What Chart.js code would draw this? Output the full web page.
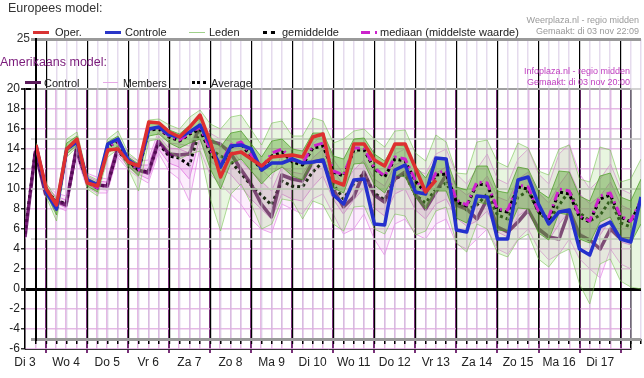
<!DOCTYPE html>
<html><head><meta charset="utf-8">
<script src="https://cdn.jsdelivr.net/npm/chart.js@4.4.1/dist/chart.umd.min.js"></script>
<style>
html,body{margin:0;padding:0;background:#fff;}
#wrap{position:relative;width:644px;height:378px;overflow:hidden;font-family:"Liberation Sans",Arial,sans-serif;}
canvas{position:absolute;left:0;top:0;}
.t{position:absolute;white-space:nowrap;line-height:normal;}
.sw{position:absolute;}
</style></head>
<body>
<div id="wrap">
<canvas id="us" width="644" height="378"></canvas>
<canvas id="eu" width="644" height="378"></canvas>

<div class="t" style="left:8px;top:1px;font-size:12.5px;color:#333;">Europees model:</div>
<div class="sw" style="left:33px;top:31px;width:16px;height:3px;background:#d83232;"></div>
<div class="t" style="left:55px;top:26px;font-size:11px;color:#222;">Oper.</div>
<div class="sw" style="left:105px;top:31px;width:16px;height:3px;background:#2a36c8;"></div>
<div class="t" style="left:125px;top:26px;font-size:11px;color:#222;">Controle</div>
<div class="sw" style="left:189px;top:32px;width:16px;height:1px;background:#9fd08a;"></div>
<div class="t" style="left:209px;top:26px;font-size:11px;color:#222;">Leden</div>
<div class="sw" style="left:263px;top:31px;width:12px;height:0;border-top:3px dotted #000;"></div>
<div class="t" style="left:282px;top:26px;font-size:11px;color:#222;">gemiddelde</div>
<div class="sw" style="left:361px;top:31px;width:9px;height:3px;background:#cc22cc;"></div>
<div class="sw" style="left:375px;top:31px;width:2px;height:3px;background:#cc22cc;"></div>
<div class="t" style="left:380px;top:26px;font-size:11px;color:#222;">mediaan (middelste waarde)</div>
<div class="t" style="right:5px;top:15px;font-size:9px;color:#9a9a9a;">Weerplaza.nl - regio midden</div>
<div class="t" style="right:5px;top:26px;font-size:9px;color:#9a9a9a;">Gemaakt: di 03 nov 22:09</div>

<div class="t" style="left:0px;top:55px;font-size:12.5px;color:#7a1a7a;">Amerikaans model:</div>
<div class="sw" style="left:25px;top:81px;width:16px;height:3px;background:#5a1a5a;"></div>
<div class="t" style="left:44px;top:77px;font-size:11px;color:#222;">Control</div>
<div class="sw" style="left:103px;top:82px;width:15px;height:1px;background:#e6a8e6;"></div>
<div class="t" style="left:123px;top:77px;font-size:10.5px;color:#222;">Members</div>
<div class="sw" style="left:192px;top:81px;width:14px;height:0;border-top:3px dotted #000;"></div>
<div class="t" style="left:211px;top:77px;font-size:11px;color:#222;">Average</div>
<div class="t" style="right:14px;top:66px;font-size:9px;color:#c040c0;">Infoplaza.nl - regio midden</div>
<div class="t" style="right:14px;top:77px;font-size:9px;color:#c040c0;">Gemaakt: di 03 nov 20:00</div>
</div>

<script>
// ---------- DATA ----------
const dayNames = ['Di 3','Wo 4','Do 5','Vr 6','Za 7','Zo 8','Ma 9','Di 10','Wo 11','Do 12','Vr 13','Za 14','Zo 15','Ma 16','Di 17'];

// European model (hours after Di 3 00:00)
const euHours = [18,24,30,36,42,48,54,60,66,72,78,84,90,96,102,108,114,120,126,132,138,144,150,156,162,168,174,180,186,192,198,204,210,216,222,228,234,240,246,252,258,264,270,276,282,288,294,300,306,312,318,324,330,336,342,348,354,360,366,372];
const euOper = [14.4,10.0,8.4,14.0,15.0,10.6,10.3,13.9,14.0,12.7, 12.3,16.7,16.6,15.7,15.2,16.2,17.4,14.7,11.2,13.5, 13.7,13.0,12.3,13.2,13.3,13.4,13.2,15.2,15.5,10.8, 10.4,14.5,14.5,12.9,12.3,14.5,14.5,12.1,9.7,10.9];
const euControle = [14.4,9.7,8.0,14.0,14.7,10.9,10.4,14.5,15.0,12.9, 12.2,16.0,16.2,15.4,15.2,15.7,16.4,14.4,12.2,14.3, 14.4,14.0,11.9,12.6,12.6,13.0,12.6,12.7,12.9,9.4, 8.5,10.9,11.0,6.5,6.4,11.9,12.4,9.7,9.5,13.1, 13.0,5.9,5.7,9.3,9.2,5.0,5.0,10.9,11.2,8.5, 6.5,7.7,7.9,4.0,3.4,6.2,6.7,5.0,4.7,9.2];
const euMean = [14.3,9.9,8.0,14.0,14.8,10.7,10.1,14.2,14.8,12.8, 11.9,15.9,16.0,15.2,14.8,15.5,16.0,13.6,12.2,14.2, 14.5,13.2,11.9,13.3,13.7,12.7,12.4,14.1,14.3,11.7, 11.3,13.9,13.9,12.0,11.2,13.0,12.8,10.8,9.6,11.4, 11.5,8.7,8.3,10.5,10.4,7.9,7.7,10.2,10.0,7.7, 7.0,9.7,9.5,7.2,6.7,9.0,9.4,7.2,6.7,8.8];
const euMedian = [14.3,9.9,8.0,14.0,14.8,10.7,10.1,14.2,14.8,12.8, 11.9,16.0,16.1,15.3,14.9,15.6,16.2,13.9,12.5,14.4, 14.7,13.4,12.1,13.6,14.0,12.9,12.6,14.3,14.6,11.8, 11.4,14.1,14.1,12.1,11.3,13.2,13.0,10.9,9.7,11.6, 11.8,8.9,8.4,10.7,10.6,8.0,7.9,10.4,10.2,7.8, 7.2,10.0,9.8,7.3,6.8,9.3,9.6,7.3,6.8,8.9];
const euMemMax = [14.6,10.6,9.0,15.0,15.7,11.4,10.9,15.0,15.8,13.6, 12.8,16.9,17.0,16.4,16.0,17.2,17.9,16.5,16.0,17.2, 17.4,15.9,14.4,16.6,16.8,15.3,15.3,17.1,16.8,14.6, 15.0,15.8,16.0,15.0,14.2,15.8,15.9,13.6,12.8,15.4, 14.7,11.6,11.5,14.7,14.9,12.7,12.2,14.6,14.1,11.8, 11.4,14.0,14.4,11.0,10.7,14.2,13.9,10.7,11.0,13.0];
const euMemHi = [14.5,10.3,8.6,14.6,15.3,11.1,10.6,14.7,15.3,13.2, 12.5,16.5,16.6,15.9,15.5,16.4,17.0,15.2,14.2,15.6, 15.8,14.5,13.2,14.8,15.0,14.0,13.8,15.6,15.6,13.3, 13.0,15.0,15.1,13.5,12.8,14.4,14.3,12.3,11.1,13.0, 13.1,10.2,9.9,12.3,12.3,9.8,9.6,12.2,12.0,9.8, 9.1,11.8,11.7,9.3,8.8,11.3,11.6,9.2,8.8,11.0];
const euMemLo = [14.1,9.5,7.4,13.5,14.4,10.3,9.7,13.6,14.3,12.3, 11.3,15.3,15.5,14.6,14.1,14.6,15.0,12.0,10.0,12.6, 13.0,11.8,10.5,11.6,12.2,11.3,10.9,12.6,12.8,10.1, 9.6,12.5,12.6,10.4,9.6,11.4,11.2,9.2,8.0,9.8, 9.8,7.1,6.6,8.7,8.5,5.9,5.8,8.1,8.0,5.6, 4.9,7.6,7.4,5.0,4.6,6.7,7.2,5.1,4.6,6.5];
const euMemMin = [14.0,9.2,6.8,13.2,14.2,10.0,9.3,13.2,14.0,12.0, 9.8,14.8,15.0,13.8,13.0,13.5,13.8,9.0,5.8,9.5, 10.5,8.5,6.0,6.5,9.0,8.8,7.0,8.8,8.4,6.5, 5.8,8.2,8.3,6.0,5.5,7.5,7.3,5.4,5.8,7.8, 8.2,4.6,3.7,6.5,6.0,3.6,3.2,4.9,5.5,3.0, 2.2,3.5,4.0,0.5,-1.5,2.5,3.0,0.8,0.2,0.0];

// American model
const usHours = [12,18,24,30,36,42,48,54,60,66,72,78,84,90,96,102,108,114,120,126,132,138,144,150,156,162,168,174,180,186,192,198,204,210,216,222,228,234,240,246,252,258,264,270,276,282,288,294,300,306,312,318,324,330,336,342,348,354,360,366];
const usControl = [5.2,13.7,9.5,8.8,8.4,14.0,10.9,10.4,10.3,14.0, 12.9,11.9,11.6,14.8,13.5,13.4,13.5,16.3,14.8,14.5, 13.6,12.0,10.5,8.5,7.2,11.4,11.0,10.8,12.7,12.9, 10.0,8.2,9.2,11.7,9.4,8.7,11.0,11.7,9.5,8.0, 9.7,11.4,8.4,8.0,7.0,9.0,6.2,5.7,6.7,7.9, 6.0,5.2,5.0,7.9,5.4,4.9,4.0,6.0,5.0,5.0];
const usAverage = [5.5,13.8,9.8,8.9,8.5,13.9,10.9,10.4,10.3,13.9, 12.7,11.9,11.7,14.6,13.3,13.1,12.4,15.8,14.0,13.3, 12.8,11.6,10.4,9.4,8.4,10.8,10.3,10.2,11.7,12.7, 10.5,9.0,10.5,11.6,9.6,8.9,11.0,11.5,9.4,8.6, 10.0,10.6,8.7,7.9,8.4,9.5,7.4,7.0,9.2,9.8, 7.7,6.8,8.4,9.8,7.6,6.8,7.4,8.9,6.6,6.2];
const usMemMax = [6.0,14.3,10.5,9.6,9.3,14.6,11.6,11.2,11.0,14.6, 13.4,12.8,12.9,15.8,14.6,14.5,14.3,16.8,15.6,15.0, 14.8,14.0,13.5,12.0,11.0,13.5,13.0,12.5,14.5,15.5, 13.0,11.5,13.5,14.0,12.0,11.5,13.5,14.0,12.0,11.5, 13.5,14.0,11.5,10.5,12.0,13.5,11.0,10.5,13.0,14.0, 11.5,10.5,13.5,14.5,11.5,10.0,11.0,12.5,10.0,9.5];
const usMemHi = [5.8,14.1,10.2,9.3,8.9,14.3,11.3,10.8,10.7,14.3, 13.1,12.4,12.4,15.3,14.1,14.0,13.6,16.4,15.0,14.4, 14.0,12.8,11.8,10.8,9.8,12.2,11.7,11.5,13.1,14.0, 11.9,10.4,11.9,12.9,11.0,10.3,12.4,12.9,10.8,10.1, 11.6,12.2,10.2,9.4,10.1,11.3,9.2,8.8,11.0,11.7, 9.6,8.6,10.4,11.8,9.5,8.5,9.3,10.7,8.4,7.9];
const usMemLo = [5.2,13.5,9.4,8.6,8.1,13.5,10.5,10.0,9.9,13.5, 12.3,11.5,11.0,14.0,12.6,12.2,11.0,15.0,12.8,12.0, 11.5,10.3,9.0,8.0,7.0,9.5,9.0,8.8,10.2,11.3, 9.0,7.5,8.9,10.1,8.1,7.3,9.5,10.0,7.9,7.0, 8.5,9.0,7.1,6.3,6.8,7.8,5.7,5.2,7.3,8.0, 5.9,4.9,6.5,7.8,5.7,4.9,5.4,7.0,4.7,4.4];
const usMemMin = [5.0,13.3,9.2,8.3,7.8,13.3,10.2,9.6,9.6,13.2, 12.0,11.2,10.6,13.6,11.8,11.0,8.8,14.0,11.5,10.5, 9.5,8.5,7.0,6.0,5.6,8.5,8.0,7.5,9.0,9.5, 7.5,5.5,6.0,7.5,5.0,3.4,6.5,7.0,5.5,5.0, 6.5,7.0,4.5,4.0,5.0,6.0,4.0,3.5,5.0,6.0, 4.0,2.9,3.5,5.0,3.0,2.0,1.1,4.0,2.5,2.0];

// ---------- CHARTS ----------
const F = '"Liberation Sans", Arial, sans-serif';
const pts = (hours, vals) => vals.map((v, i) => ({x: hours[i], y: v}));
const base = {
  responsive: false, animation: false, devicePixelRatio: 1,
  plugins: {legend: {display: false}, tooltip: {enabled: false}},
  elements: {point: {radius: 0}, line: {tension: 0, borderJoinStyle: 'round', borderCapStyle: 'butt'}},
  parsing: false
};

// American chart (drawn underneath)
new Chart(document.getElementById('us'), {
  type: 'line',
  data: {datasets: [
    {data: pts(usHours, usControl), borderColor: 'rgba(100,10,100,0.85)', borderWidth: 3.5, order: 0},
    {data: pts(usHours, usAverage), borderColor: '#000', borderWidth: 3, borderDash: [3, 3], order: 1},
    {data: pts(usHours, usMemMax), borderColor: 'rgba(228,120,228,0.65)', borderWidth: 1, fill: 5, backgroundColor: 'rgba(235,150,235,0.16)', order: 6},
    {data: pts(usHours, usMemHi), borderColor: 'rgba(218,90,218,0.65)', borderWidth: 1, fill: 4, backgroundColor: 'rgba(225,110,225,0.22)', order: 5},
    {data: pts(usHours, usMemLo), borderColor: 'rgba(218,90,218,0.65)', borderWidth: 1, order: 5},
    {data: pts(usHours, usMemMin), borderColor: 'rgba(228,120,228,0.65)', borderWidth: 1, order: 6}
  ]},
  options: Object.assign({}, base, {
    layout: {padding: {left: 0, top: 89, right: 13, bottom: 0}},
    scales: {
      x: {type: 'linear', min: 12, max: 366,
        afterFit(s) { s.height = 29; },
        ticks: {stepSize: 6, autoSkip: false, maxTicksLimit: 200, maxRotation: 0, padding: 2,
          color: '#222', font: {size: 12, family: F},
          callback: v => ((v - 12) % 24 === 0 ? dayNames[(v - 12) / 24] : '')},
        grid: {
          color: c => { const v = c.tick ? c.tick.value : 0; return v === 366 ? '#000' : (v % 24 === 0 ? 'rgba(105,25,105,0.9)' : 'rgba(222,168,222,0.8)'); },
          lineWidth: c => { const v = c.tick ? c.tick.value : 0; return v % 24 === 0 ? 2 : 1.5; },
          tickLength: 4,
          tickColor: c => { const v = c.tick ? c.tick.value : 0; return v % 24 === 0 ? 'rgba(105,25,105,0.9)' : 'rgba(0,0,0,0)'; }
        },
        border: {display: true, color: '#333', width: 1}
      },
      y: {min: -6, max: 20,
        afterFit(s) { s.width = 25; },
        ticks: {stepSize: 2, color: '#222', font: {size: 12, family: F}, padding: 1},
        grid: {
          color: c => { const v = c.tick ? c.tick.value : 1; return (v === 0 || v === 20) ? '#000' : 'rgba(222,168,222,0.8)'; },
          lineWidth: c => { const v = c.tick ? c.tick.value : 1; return v === 0 ? 3 : (v === 20 ? 2 : 1.5); },
          tickLength: 4, tickColor: '#333'
        },
        border: {display: true, color: '#000', width: 1.5}
      }
    }
  })
});

// European chart (drawn on top, transparent)
new Chart(document.getElementById('eu'), {
  type: 'line',
  data: {datasets: [
    {data: pts(euHours, euOper), borderColor: 'rgb(222,48,48)', borderWidth: 3.5, order: 0},
    {data: pts(euHours, euControle), borderColor: 'rgb(36,48,205)', borderWidth: 3.5, order: 1},
    {data: pts(euHours, euMedian), borderColor: '#cc22cc', borderWidth: 3, borderDash: [9, 4, 2, 4], order: 2},
    {data: pts(euHours, euMean), borderColor: '#000', borderWidth: 3, borderDash: [3, 3], order: 3},
    {data: pts(euHours, euMemMax), borderColor: 'rgba(110,190,70,0.55)', borderWidth: 1, fill: 7, backgroundColor: 'rgba(140,210,100,0.2)', order: 9},
    {data: pts(euHours, euMemHi), borderColor: 'rgba(70,155,30,0.7)', borderWidth: 1, fill: 6, backgroundColor: 'rgba(80,165,40,0.42)', order: 8},
    {data: pts(euHours, euMemLo), borderColor: 'rgba(70,155,30,0.7)', borderWidth: 1, order: 8},
    {data: pts(euHours, euMemMin), borderColor: 'rgba(110,190,70,0.55)', borderWidth: 1, order: 9}
  ]},
  options: Object.assign({}, base, {
    layout: {padding: {left: 0, top: 39, right: 3, bottom: 0}},
    scales: {
      x: {type: 'linear', min: 18, max: 372,
        afterFit(s) { s.height = 39; },
        ticks: {stepSize: 6, autoSkip: false, maxTicksLimit: 200, maxRotation: 0, callback: () => ''},
        grid: {
          color: c => { const v = c.tick ? c.tick.value : 0; return v % 24 === 0 ? '#000' : 'rgba(208,190,222,0.55)'; },
          lineWidth: c => { const v = c.tick ? c.tick.value : 0; return v % 24 === 0 ? 1.2 : 1.5; },
          tickLength: 5, tickColor: '#000'
        },
        border: {display: false}
      },
      y: {min: -5, max: 25,
        afterFit(s) { s.width = 36; },
        ticks: {stepSize: 5, color: '#333', font: {size: 12, family: F}, padding: 1,
          callback: v => (v === 25 ? '25' : '')},
        grid: {
          color: c => { const v = c.tick ? c.tick.value : 1; return v === 0 ? '#000' : ((v === 25 || v === -5) ? '#9a9a9a' : 'rgba(200,200,200,0.8)'); },
          lineWidth: c => { const v = c.tick ? c.tick.value : 1; return (v === 0 || v === 25 || v === -5) ? 3 : 2; },
          tickLength: 5
        },
        border: {display: true, color: '#000', width: 2}
      }
    }
  })
});
</script>
</body></html>
